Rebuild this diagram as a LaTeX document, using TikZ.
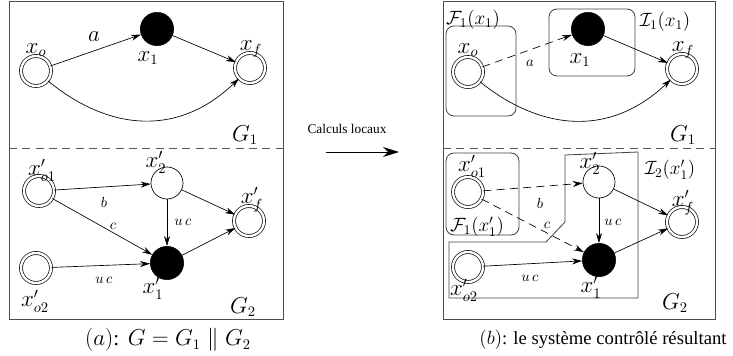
\documentclass[tikz,border=0pt]{standalone}
\usepackage[no-math]{fontspec}
\newfontfamily\tnr{Liberation Serif}
\usetikzlibrary{arrows.meta}
\begin{document}
\begin{tikzpicture}[x=0.75pt,y=-0.75pt,
  dbl/.style={circle,draw,double,double distance=1.8pt,minimum size=22.5pt,inner sep=0pt,line width=0.5pt},
  blk/.style={circle,fill=black,draw,minimum size=25pt,inner sep=0pt},
  opn/.style={circle,draw,minimum size=24pt,inner sep=0pt,line width=0.5pt},
  lbl/.style={font=\fontsize{16}{18}\selectfont,inner sep=0pt},
  sml/.style={font=\fontsize{11}{12}\selectfont,inner sep=0pt},
  grl/.style={font=\fontsize{14}{16}\selectfont,inner sep=0pt},
  arr/.style={-{Stealth[length=7.5pt,width=4.5pt]},line width=0.5pt},
  frame/.style={draw=black!70,line width=0.6pt},
  sep/.style={draw=black!65,dash pattern=on 6pt off 4pt,line width=0.6pt},
  grp/.style={draw=black!75,rounded corners=6pt,line width=0.6pt},
  poly/.style={draw=black!75,line width=0.6pt}]
\useasboundingbox (0,0) rectangle (733,356);
% frames
\draw[frame] (9,1) rectangle (283,319);
\draw[sep] (9,148) -- (283,148);
\draw[frame] (443,1) rectangle (715,319);
\draw[sep] (443,148) -- (715,148);
% ---------- left upper
\node[dbl] (xo) at (36,71) {};
\node[blk] (x1) at (157,29) {};
\node[dbl] (xf) at (250,68) {};
\node[lbl] (lxo) at (36,50) {$x_o$};
\node[lbl] (lx1) at (148,58) {$x_1$};
\node[lbl] (lxf) at (251,49) {$x_f$};
\node[lbl] (la) at (94,37) {$a$};
\node[lbl] (lG1) at (245,135) {$G_1$};
\draw[arr] (xo) -- (x1);
\draw[arr] (x1) -- (xf);
\draw[arr] (xo) .. controls (105,128) and (175,140) .. (xf);
% ---------- left lower
\node[dbl] (xo1) at (39,191) {};
\node[opn] (x2) at (167,183) {};
\node[dbl] (xfp) at (249,221) {};
\node[blk] (x1p) at (167,263) {};
\node[dbl] (xo2) at (36,268) {};
\node[lbl] (lxo1) at (42,170) {$x'_{o1}$};
\node[lbl] (lx2) at (156,162) {$x'_2$};
\node[lbl] (lxfp) at (252,200) {$x'_f$};
\node[lbl] (lx1p) at (153,288) {$x'_1$};
\node[lbl] (lxo2) at (35,301) {$x'_{o2}$};
\node[sml] (lb) at (104,202) {$b$};
\node[sml] (lc) at (113,226) {$c$};
\node[sml] (luc1) at (183,222) {$u\,c$};
\node[sml] (luc2) at (104,280) {$u\,c$};
\node[lbl] (lG2) at (243,307) {$G_2$};
\draw[arr] (xo1) -- (x2);
\draw[arr] (xo1) -- (x1p);
\draw[arr] (x2) -- (x1p);
\draw[arr] (x2) -- (xfp);
\draw[arr] (x1p) -- (xfp);
\draw[arr] (xo2) -- (x1p);
\node[lbl] (capa) at (168,340) {$(a)${\tnr:} $G = G_1 \parallel G_2$};
% ---------- middle
\node[font=\tnr\fontsize{10}{12}\selectfont,inner sep=0pt] (calc) at (347,129) {Calculs locaux};
\coordinate (ca) at (326,152);
\coordinate (cb) at (399,152);
\draw[-{Stealth[length=12pt,width=7.5pt]},line width=0.6pt] (ca) -- (cb);
% ---------- right upper
\draw[grp] (446,26) rectangle (516,116);
\draw[grp] (549,9) rectangle (635,76);
\node[dbl] (rxo) at (468,72) {};
\node[blk] (rx1) at (588,29) {};
\node[dbl] (rxf) at (682,69) {};
\node[lbl] (rlxo) at (468,50) {$x_o$};
\node[lbl] (rlx1) at (580,60) {$x_1$};
\node[lbl] (rlxf) at (683,50) {$x_f$};
\node[sml] (rla) at (530,63) {$a$};
\node[grl] (rlF1) at (473,20) {$\mathcal{F}_1(x_1)$};
\node[grl] (rlI1) at (665,22) {$\mathcal{I}_1(x_1)$};
\node[lbl] (rlG1) at (683,135) {$G_1$};
\draw[arr,dash pattern=on 6pt off 4pt] (rxo) -- (rx1);
\draw[arr] (rx1) -- (rxf);
\draw[arr] (rxo) .. controls (537,128) and (607,140) .. (rxf);
% ---------- right lower
\draw[grp] (446,153) rectangle (519,235);
\draw[poly] (565,155) -- (638,152) -- (638,298) -- (449,298) -- (449,242) -- (546,242) -- (565,222) -- cycle;
\node[dbl] (rxo1) at (468,192) {};
\node[opn] (rx2) at (599,182) {};
\node[dbl] (rxfp) at (682,222) {};
\node[blk] (rx1p) at (599,260) {};
\node[dbl] (rxo2) at (468,267) {};
\node[lbl] (rlxo1) at (472,166) {$x'_{o1}$};
\node[lbl] (rlx2) at (590,163) {$x'_2$};
\node[lbl] (rlxfp) at (683,203) {$x'_f$};
\node[lbl] (rlx1p) at (591,287) {$x'_1$};
\node[lbl] (rlxo2) at (464,290) {$x'_{o2}$};
\node[sml] (rlb) at (540,203) {$b$};
\node[sml] (rlc) at (547,225) {$c$};
\node[sml] (rluc1) at (613,222) {$u\,c$};
\node[sml] (rluc2) at (530,278) {$u\,c$};
\node[grl] (rlF2) at (477,227) {$\mathcal{F}_1(x'_1)$};
\node[grl] (rlI2) at (670,170) {$\mathcal{I}_2(x'_1)$};
\node[lbl] (rlG2) at (675,303) {$G_2$};
\draw[arr,dash pattern=on 6pt off 4pt] (rxo1) -- (rx2);
\draw[arr,dash pattern=on 6pt off 4pt] (rxo1) -- (rx1p);
\draw[arr] (rx2) -- (rx1p);
\draw[arr] (rx2) -- (rxfp);
\draw[arr] (rx1p) -- (rxfp);
\draw[arr] (rxo2) -- (rx1p);
\node[font=\tnr\fontsize{14}{16}\selectfont,inner sep=0pt] (capb) at (603,340) {$(b)$: le système contrôlé résultant};
\end{tikzpicture}
\end{document}
